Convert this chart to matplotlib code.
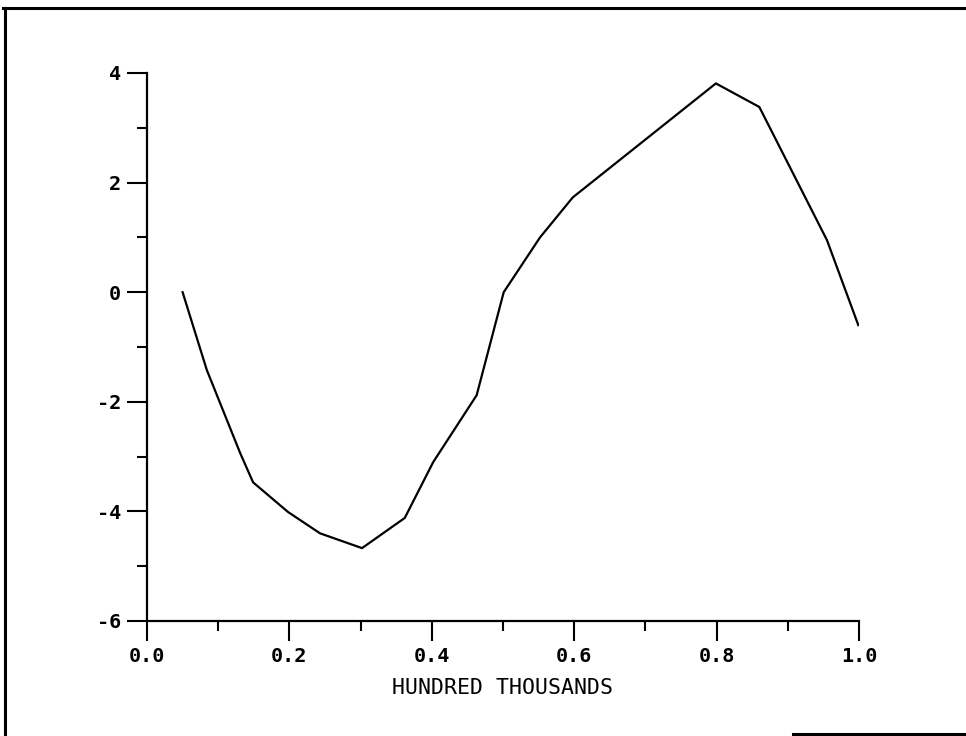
import numpy as np
import matplotlib
matplotlib.use('Agg')
import matplotlib.pyplot as plt
from matplotlib.lines import Line2D
from matplotlib.ticker import MultipleLocator, FormatStrFormatter

# curve (x in hundred thousands)
x_values = [0.05, 0.084, 0.131, 0.149, 0.198, 0.243, 0.302, 0.362, 0.402,
            0.463, 0.501, 0.552, 0.598, 0.799, 0.860, 0.955, 0.999]
y_values = [0.0, -1.42, -2.94, -3.47, -4.01, -4.40, -4.67, -4.12, -3.10,
            -1.88, 0.0, 1.0, 1.73, 3.81, 3.38, 0.95, -0.60]

x_ticks = [0.0, 0.2, 0.4, 0.6, 0.8, 1.0]
y_ticks = [-6, -4, -2, 0, 2, 4]
x_label = 'HUNDRED THOUSANDS'

plt.rcParams['font.family'] = ['DejaVu Sans Mono', 'DejaVu Sans']

fig = plt.figure(figsize=(9.66, 7.36), dpi=100)
ax = fig.add_axes([147 / 966, 1 - 621 / 736, 712 / 966, 548 / 736])

ax.plot(x_values, y_values, color='black', linewidth=1.6)

ax.set_xlim(0.0, 1.0)
ax.set_ylim(-6, 4)
ax.set_xticks(x_ticks)
ax.set_yticks(y_ticks)
ax.xaxis.set_minor_locator(MultipleLocator(0.1))
ax.yaxis.set_minor_locator(MultipleLocator(1))
ax.xaxis.set_major_formatter(FormatStrFormatter('%.1f'))
ax.yaxis.set_major_formatter(FormatStrFormatter('%d'))

for side in ['top', 'right']:
    ax.spines[side].set_visible(False)
for side in ['left', 'bottom']:
    ax.spines[side].set_linewidth(1.6)

ax.tick_params(which='major', direction='out', length=14.5, width=1.5,
               labelsize=14.5, pad=4)
ax.tick_params(which='minor', direction='out', length=7, width=1.5)
for lab in ax.get_xticklabels() + ax.get_yticklabels():
    lab.set_fontweight('bold')

ax.set_xlabel(x_label, fontsize=15.5, labelpad=9)

# scanned page frame
fig.add_artist(Line2D([3 / 966, 1.0], [1 - 8 / 736, 1 - 8 / 736],
                      transform=fig.transFigure, color='black', linewidth=2.2))
fig.add_artist(Line2D([5 / 966, 5 / 966], [0.0, 1 - 8 / 736],
                      transform=fig.transFigure, color='black', linewidth=2.2))
fig.add_artist(Line2D([793 / 966, 1.0], [1 - 734 / 736, 1 - 734 / 736],
                      transform=fig.transFigure, color='black', linewidth=2.2))

fig.savefig('out.png', dpi=100)
